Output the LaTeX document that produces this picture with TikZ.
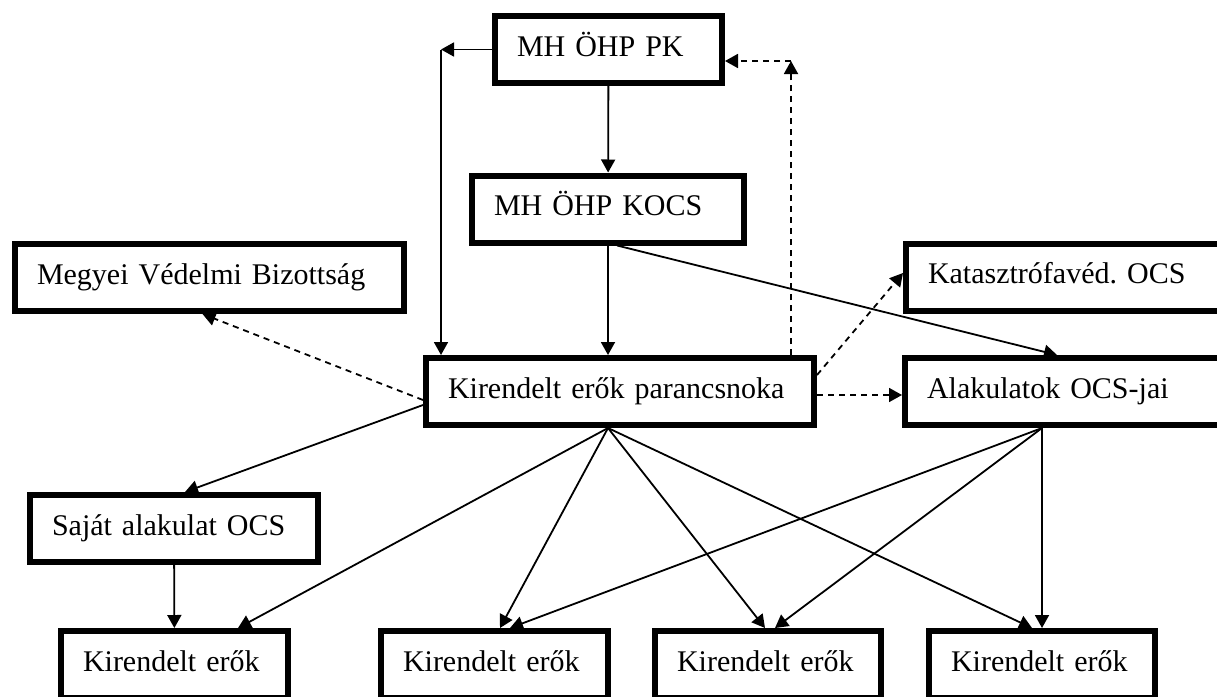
\documentclass[tikz,border=0pt]{standalone}
\usepackage{fontspec}
\setmainfont{Liberation Serif}
\usetikzlibrary{arrows.meta}
\frenchspacing
\begin{document}
\begin{tikzpicture}[x=1pt,y=-1pt,line width=1.8pt,font=\fontsize{30}{36}\selectfont,
	>={Triangle[length=13pt,width=14pt]},
	box/.style={draw,line width=6pt,text width=#1,align=left,inner xsep=22pt,inner ysep=0pt,
		minimum height=67pt,text height=21pt,text depth=7.5pt},
	dline/.style={dash pattern=on 6pt off 5pt}]
		\useasboundingbox (0,0) rectangle (1217,696);
		\clip (0,0) rectangle (1217,696);
		\node[box=183pt] (pk) at (608.5,49.5) {MH ÖHP PK};
		\node[box=228pt] (kocs) at (608,209) {MH ÖHP KOCS};
		\node[box=345pt] (mvb) at (209.5,277.5) {Megyei Védelmi Bizottság};
		\node[box=287pt] (kat) at (1071.5,277) {Katasztrófavéd. OCS};
		\node[box=288pt] (alak) at (1071,391.5) {Alakulatok OCS-jai};
		\node[box=344pt] (kep) at (620,391.5) {Kirendelt erők parancsnoka};
		\node[box=244pt] (sajat) at (174,528.5) {Saját alakulat OCS};
		\foreach \i/\x/\w in {1/174.5/183,2/494.5/183,3/768/182,4/1042/182}
			\node[box=\w pt] (k\i) at (\x,664.5) {Kirendelt erők};
		% felso iranyitas
		\coordinate (cl) at (441,49.5);
		\coordinate (cr) at (791,61);
		\draw[->] (pk) -- (cl);
		\draw[->] (cl) -- (cl |- kep.north);
		\draw[->] (pk) -- (kocs);
		\draw[->] (kocs.south) -- (kocs.south |- kep.north);
		\draw[->] ([xshift=9pt]kocs.south) -- ([xshift=-14pt]alak.north);
		\draw[dline,->] (kep.north -| cr) -- (cr);
		\draw[dline,->] (cr) -- (pk.east |- cr);
		% kapcsolattartas
		\draw[dline,->] ([yshift=-8.5pt]kep.west) -- ([xshift=-7pt]mvb.south);
		\draw[dline,->] ([yshift=16.5pt]kep.east) -- ([yshift=4pt]kat.west);
		\draw[dline,->] ([yshift=-3.5pt]kep.east) -- ([yshift=-3.5pt]alak.west);
		\draw[->] ([yshift=-13.5pt]kep.west) -- ([xshift=11pt]sajat.north);
		\draw[->] (sajat) -- (k1);
		% kirendelt erok
		\coordinate (pb) at ([xshift=-12pt]kep.south);
		\coordinate (ab) at ([xshift=-29pt]alak.south);
		\foreach \k/\d in {k1/63.5,k2/5.5,k3/-3,k4/-10}\draw[->] (pb) -- ([xshift=\d pt]\k.north);
		\foreach \k/\d in {k2/15.5,k3/7,k4/0}\draw[->] (ab) -- ([xshift=\d pt]\k.north);
\end{tikzpicture}
\end{document}
